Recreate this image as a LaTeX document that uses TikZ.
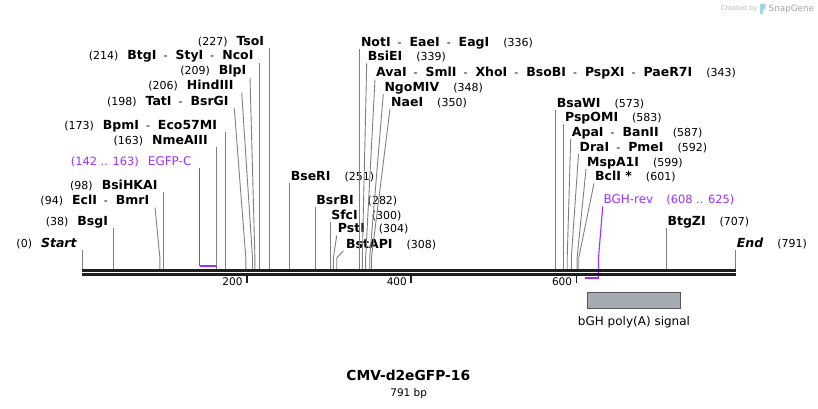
\documentclass[tikz,border=0pt]{standalone}
\usepackage{fontspec}
\setmainfont{DejaVu Sans}
\usetikzlibrary{positioning}
\definecolor{primer}{RGB}{155,48,255}
\definecolor{cutline}{RGB}{128,128,128}
\definecolor{featfill}{RGB}{166,170,178}
\definecolor{axisblack}{RGB}{30,30,30}
\definecolor{logoblue}{RGB}{160,212,238}
\newcommand{\enz}[1]{{\fontsize{12.5}{14}\selectfont\bfseries #1}}
\newcommand{\hy}{\hspace{7pt}-\hspace{8pt}}
\tikzset{
  cut/.style={draw=cutline, line width=0.9pt},
  lab/.style={font=\fontsize{11}{13}\selectfont, inner ysep=0pt, text depth=2.5pt},
  lft/.style={lab, anchor=south east, inner xsep=5.5pt},
  rgt/.style={lab, anchor=south west, inner xsep=1pt},
  oligo/.style={lab, text=primer, font=\fontsize{11.4}{13}\selectfont},
  primerline/.style={draw=primer, line width=1.8pt},
  tick/.style={draw=axisblack, line width=1.6pt},
}
\begin{document}
\begin{tikzpicture}[x=1pt,y=-1pt]

\fill[white] (0,0) rectangle (818,408);
\useasboundingbox (0,0) rectangle (818,408);

% logo
\node[anchor=base west, inner sep=0pt, text=black!28, font=\fontsize{6.6}{8}\selectfont] (credit) at (720.7,10.5) {Created by};
\fill[logoblue, rounded corners=1.2pt] (760,3.5) rectangle (765.5,9.5);
\fill[logoblue] (760,3.5) rectangle (762.6,14);
\node[anchor=base west, inner sep=0pt, text=black!35, font=\fontsize{8.8}{10}\selectfont] (brand) at (768.5,11) {SnapGene};

% cut sites on the axis
\foreach \n/\x in {0/82.3, 38/113.7, 94/159.9, 98/163.2, 163/216.9, 173/225.2,
  198/245.8, 206/252.5, 209/254.9, 214/259.1, 227/269.8, 251/289.6, 282/315.2,
  300/330.1, 304/333.4, 308/336.7, 336/359.8, 339/362.3, 343/365.6, 348/369.7,
  350/371.4, 573/555.6, 583/563.9, 587/567.2, 592/571.3, 599/577.1, 601/578.7,
  707/666.3, 791/735.7}
  \coordinate (c\n) at (\x,269);

% left labels
\node[lft] (start) at (82.3,250) {(0)\hspace{9pt}\enz{\itshape Start}};
\node[lft] (bsgI) at (113.7,228.3) {(38)\hspace{9pt}\enz{BsgI}};
\node[lft] (eclI) at (155,207.3) {(94)\hspace{9pt}\enz{EclI}\hy\enz{BmrI}};
\node[lft] (bsiHKAI) at (163.2,191.7) {(98)\hspace{9pt}\enz{BsiHKAI}};
\node[oligo, anchor=south east, inner xsep=8pt] (egfpC) at (199.6,168.3) {(142 .. 163)\hspace{9pt}{\fontsize{12}{14}\selectfont EGFP-C}};
\node[lft, inner xsep=9pt] (nmeAIII) at (216.9,146.7) {(163)\hspace{9pt}\enz{NmeAIII}};
\node[lft, inner xsep=8pt] (bpmI) at (225.2,132) {(173)\hspace{9pt}\enz{BpmI}\hy\enz{Eco57MI}};
\node[lft] (tatI) at (234.3,108.3) {(198)\hspace{9pt}\enz{TatI}\hy\enz{BsrGI}};
\node[lft, inner xsep=8pt] (hindIII) at (241.7,92.5) {(206)\hspace{9pt}\enz{HindIII}};
\node[lft, inner xsep=3.5pt] (blpI) at (250,77.5) {(209)\hspace{9pt}\enz{BlpI}};
\node[lft] (btgI) at (259.1,62.5) {(214)\hspace{9pt}\enz{BtgI}\hy\enz{StyI}\hy\enz{NcoI}};
\node[lft] (tsoI) at (269.8,48.3) {(227)\hspace{9pt}\enz{TsoI}};

% middle labels
\node[rgt] (bseRI) at (289.6,183.3) {\enz{BseRI}\hspace{14pt}(251)};
\node[rgt] (bsrBI) at (315.2,206.7) {\enz{BsrBI}\hspace{14pt}(282)};
\node[rgt] (sfcI) at (330.1,221.7) {\enz{SfcI}\hspace{14pt}(300)};
\node[rgt] (pstI) at (336.7,235.5) {\enz{PstI}\hspace{14pt}(304)};
\node[rgt, inner xsep=2.7pt] (bstAPI) at (343.3,250.8) {\enz{BstAPI}\hspace{14pt}(308)};
\node[rgt] (notI) at (359.8,49.3) {\enz{NotI}\hy\enz{EaeI}\hy\enz{EagI}\hspace{14pt}(336)};
\node[rgt] (bsiEI) at (366.7,63.3) {\enz{BsiEI}\hspace{14pt}(339)};
\node[rgt] (avaI) at (375,79.3) {\enz{AvaI}\hy\enz{SmlI}\hy\enz{XhoI}\hy\enz{BsoBI}\hy\enz{PspXI}\hy\enz{PaeR7I}\hspace{14pt}(343)};
\node[rgt] (ngoMIV) at (383.3,94) {\enz{NgoMIV}\hspace{14pt}(348)};
\node[rgt] (naeI) at (390,109) {\enz{NaeI}\hspace{14pt}(350)};

% right labels
\node[rgt] (bsaWI) at (555.6,110) {\enz{BsaWI}\hspace{14pt}(573)};
\node[rgt] (pspOMI) at (563.9,124) {\enz{PspOMI}\hspace{14pt}(583)};
\node[rgt] (apaI) at (570.7,139) {\enz{ApaI}\hy\enz{BanII}\hspace{14pt}(587)};
\node[rgt] (draI) at (578.5,154) {\enz{DraI}\hy\enz{PmeI}\hspace{14pt}(592)};
\node[rgt] (mspA1I) at (586,169) {\enz{MspA1I}\hspace{14pt}(599)};
\node[rgt] (bclI) at (594,183.3) {\enz{BclI *}\hspace{14pt}(601)};
\node[oligo, anchor=south west, inner xsep=0.6pt] (bghRev) at (602.7,206.5) {{\fontsize{12}{14}\selectfont BGH-rev}\hspace{13pt}(608 .. 625)};
\node[rgt] (btgZI) at (666.3,228.3) {\enz{BtgZI}\hspace{14pt}(707)};
\node[rgt] (endlab) at (735.7,250) {\enz{\itshape End}\hspace{14pt}(791)};

% connectors
\draw[cut] (c0) -- (start.south east);
\draw[cut] (c38) -- (bsgI.south east);
\draw[cut] (c94) -- ++(0,-11) -- (eclI.south east);
\draw[cut] (c98) -- (bsiHKAI.south east);
\draw[cut] (c163) -- (nmeAIII.south east);
\draw[cut] (c173) -- (bpmI.south east);
\draw[cut] (c198) -- ++(0,-11) -- (tatI.south east);
\draw[cut] (c206) -- ++(0,-11) -- (hindIII.south east);
\draw[cut] (c209) -- ++(0,-11) -- (blpI.south east);
\draw[cut] (c214) -- (btgI.south east);
\draw[cut] (c227) -- (tsoI.south east);
\draw[cut] (c251) -- (bseRI.south west);
\draw[cut] (c282) -- (bsrBI.south west);
\draw[cut] (c300) -- (sfcI.south west);
\draw[cut] (c304) -- ++(0,-11) -- (pstI.south west);
\draw[cut] (c308) -- ++(0,-11) -- (bstAPI.south west);
\draw[cut] (c336) -- (notI.south west);
\draw[cut] (c339) -- ++(0,-11) -- (bsiEI.south west);
\draw[cut] (c343) -- ++(0,-11) -- (avaI.south west);
\draw[cut] (c348) -- ++(0,-11) -- (ngoMIV.south west);
\draw[cut] (c350) -- ++(0,-11) -- (naeI.south west);
\draw[cut] (c573) -- (bsaWI.south west);
\draw[cut] (c583) -- (pspOMI.south west);
\draw[cut] (c587) -- ++(0,-11) -- (apaI.south west);
\draw[cut] (c592) -- ++(0,-11) -- (draI.south west);
\draw[cut] (c599) -- ++(0,-11) -- (mspA1I.south west);
\draw[cut] (c601) -- ++(0,-11) -- (bclI.south west);
\draw[cut] (c707) -- (btgZI.south west);
\draw[cut] (c791) -- (endlab.south west);

% primers
\coordinate (p142) at (199.6,265.7);
\coordinate (p163) at (216.9,265.7);
\coordinate (p608) at (584.5,278.3);
\coordinate (p625) at (598.5,278.3);
\draw[draw=primer, line width=1.1pt] (egfpC.south east) -- (p142);
\draw[primerline] (p142) -- (p163);
\draw[draw=primer, line width=1.1pt] (bghRev.south west) -- (598.5,258) -- (p625);
\draw[primerline] ([xshift=0.5pt]p625) -- (p608);

% sequence axis
\draw[axisblack, line width=2.6pt] (82.3,270.3) -- (735.7,270.3);
\draw[axisblack, line width=2.6pt] (82.3,274.6) -- (735.7,274.6);

% ruler
\foreach \t/\x in {200/246.7, 400/411, 600/576.3} {
  \draw[tick] (\x,276) -- (\x,283);
  \node[anchor=base east, inner sep=0pt, font=\fontsize{10.5}{12}\selectfont] (tick\t) at (\x-4,285) {\t};
}

% feature
\node[draw=black!65, fill=featfill, line width=0.8pt, minimum width=93.4pt, minimum height=16pt, inner sep=0pt] (bgh) at (634,300.3) {};
\node[below=7pt of bgh, inner sep=0pt, font=\fontsize{12}{14}\selectfont] (bghlab) {bGH poly(A) signal};

% title
\node[font=\fontsize{13.8}{16}\selectfont\bfseries, inner sep=0pt, anchor=base] (title) at (408.3,380.7) {CMV-d2eGFP-16};
\node[font=\fontsize{10.5}{12}\selectfont, inner sep=0pt, anchor=base] (size) at (408.7,396) {791 bp};

\end{tikzpicture}
\end{document}
